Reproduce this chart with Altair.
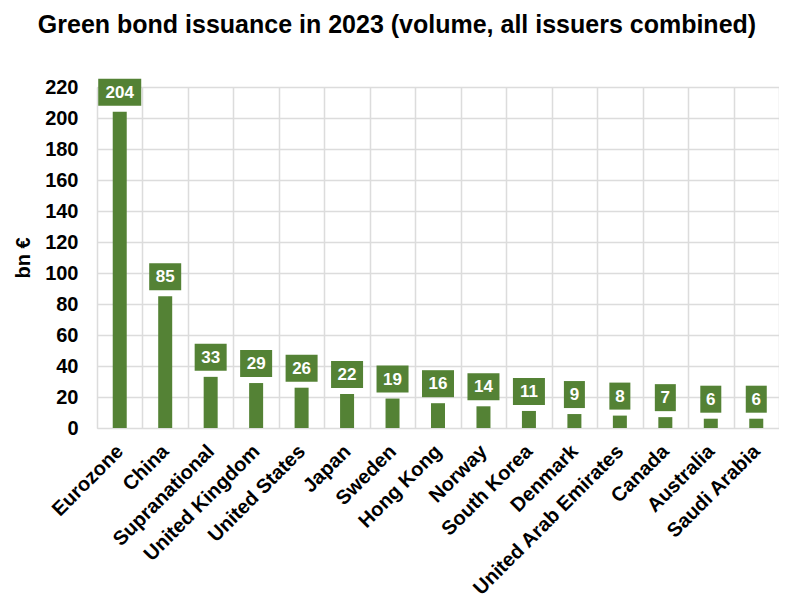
import altair as alt
import pandas as pd

countries = ["Eurozone", "China", "Supranational", "United Kingdom", "United States",
             "Japan", "Sweden", "Hong Kong", "Norway", "South Korea", "Denmark",
             "United Arab Emirates", "Canada", "Australia", "Saudi Arabia"]
values = [204, 85, 33, 29, 26, 22, 19, 16, 14, 11, 9, 8, 7, 6, 6]

df = pd.DataFrame({"country": countries, "value": values})
df["label"] = df["value"].astype(str)

GREEN = "#548235"
FONT = "Liberation Sans"

x = alt.X("country:N", sort=countries, title=None,
          scale=alt.Scale(paddingInner=0, paddingOuter=0),
          axis=alt.Axis(labelAngle=-45, labelFontSize=20, labelFontWeight="bold",
                        labelColor="#000", labelFont=FONT, labelAlign="right",
                        labelBaseline="middle", labelPadding=20, labelLimit=0,
                        domain=False, ticks=False, grid=True, tickBand="extent",
                        gridColor="#dcdcdc", gridWidth=1.5))
y = alt.Y("value:Q", title="bn €",
          scale=alt.Scale(domain=[0, 220], nice=False),
          axis=alt.Axis(values=list(range(0, 221, 20)), labelFontSize=20,
                        labelFontWeight="bold", labelColor="#000", labelFont=FONT,
                        titleFontSize=20, titleFontWeight="bold", titleColor="#000",
                        titleFont=FONT, titlePadding=11, labelPadding=19,
                        domain=False, ticks=False, gridColor="#dcdcdc", gridWidth=1.5))

base = alt.Chart(df)

bars = base.mark_bar(color=GREEN, width=14).encode(x=x, y=y)

boxes = base.transform_calculate(
    boxw="11 * length(datum.label) + 10"
).mark_bar(color=GREEN, yOffset=-6, y2Offset=-33, clip=False).encode(
    x=x, y=y, y2="value:Q", size=alt.Size("boxw:Q", scale=None, legend=None)
)

texts = base.mark_text(color="white", fontWeight="bold", fontSize=17, font=FONT,
                       dy=-19, baseline="middle").encode(x=x, y=y, text="label:N")

chart = alt.layer(bars, boxes, texts).properties(
    width=682, height=341,
    padding={"left": 5, "top": 5, "right": 0, "bottom": 0},
    title=alt.TitleParams("Green bond issuance in 2023 (volume, all issuers combined)",
                          fontSize=25, fontWeight="bold", font=FONT, color="#000",
                          offset=39, dx=-41)
).configure_view(stroke=None).configure(background="white")

chart.save("out.html", embed_options={"renderer": "svg", "actions": False})
